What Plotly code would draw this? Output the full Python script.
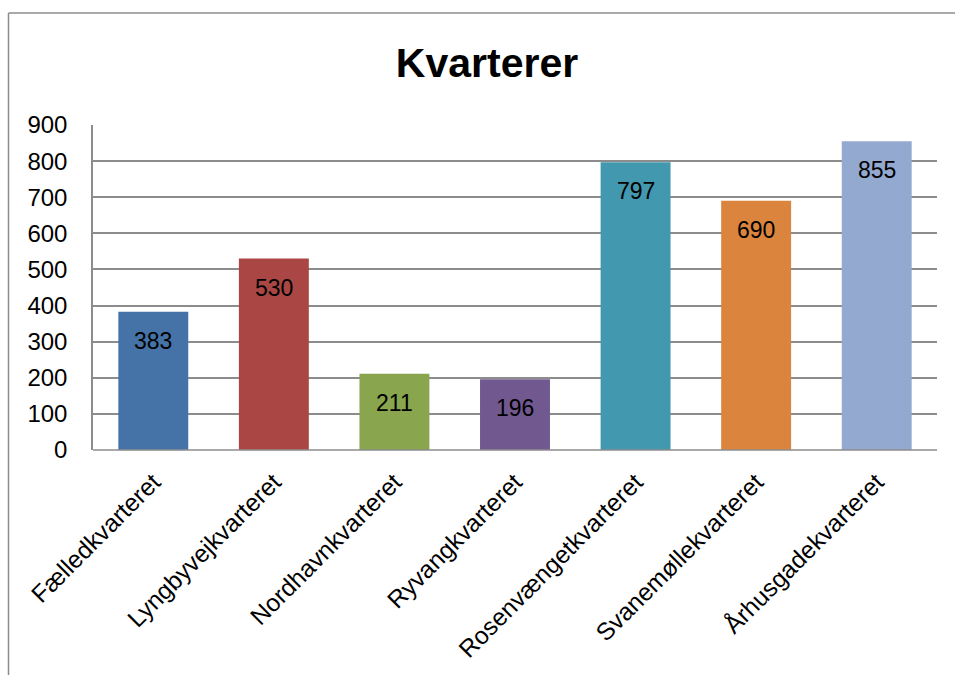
import plotly.graph_objects as go

categories = ["Fælledkvarteret", "Lyngbyvejkvarteret", "Nordhavnkvarteret", "Ryvangkvarteret",
              "Rosenvængetkvarteret", "Svanemøllekvarteret", "Århusgadekvarteret"]
values = [383, 530, 211, 196, 797, 690, 855]
colors = ["#4573A7", "#AA4643", "#89A54E", "#71588F", "#4198AF", "#DB843D", "#93A9CF"]
y_ticks = [0, 100, 200, 300, 400, 500, 600, 700, 800, 900]

FONT = "Liberation Sans"

fig = go.Figure(go.Bar(
    x=categories, y=values, marker=dict(color=colors, line=dict(width=0)),
    hoverinfo="x+y",
))

for c, v in zip(categories, values):
    fig.add_annotation(x=c, y=v, text=str(v), showarrow=False, yshift=-29,
                       yanchor="middle", xanchor="center",
                       font=dict(family=FONT, size=23, color="black"))

L, R, T, B = 93, 18, 125, 225
W, H = 955, 675
pw, ph = W - L - R, H - T - B

def px_to_paper_x(px):
    return (px - L) / pw

def px_to_paper_y(py):
    return (H - B - py) / ph

fig.update_layout(
    width=W, height=H,
    margin=dict(l=L, r=R, t=T, b=B),
    paper_bgcolor="white", plot_bgcolor="white",
    bargap=0.42,
    showlegend=False,
    title=dict(text="<b>Kvarterer</b>", x=487 / W, xanchor="center",
               y=1 - 63 / H, yanchor="middle",
               font=dict(family=FONT, size=41, color="black")),
    xaxis=dict(tickangle=-45, tickfont=dict(family=FONT, size=24.5, color="black"),
               showline=False, ticks="", showgrid=False, ticklabelstandoff=12),
    yaxis=dict(range=[0, 900], tickvals=y_ticks, tickfont=dict(family=FONT, size=24, color="black"),
               showgrid=True, gridcolor="#8c8c8c", gridwidth=1.5, zeroline=False,
               showline=True, linecolor="#8c8c8c", linewidth=1.5, ticks="", ticklen=0,
               ticklabelstandoff=19),
    shapes=[
        dict(type="line", xref="paper", yref="paper", x0=px_to_paper_x(8.5), x1=px_to_paper_x(960),
             y0=px_to_paper_y(13), y1=px_to_paper_y(13), line=dict(color="#8c8c8c", width=1.5), layer="above"),
        dict(type="line", xref="paper", yref="paper", x0=px_to_paper_x(8.5), x1=px_to_paper_x(8.5),
             y0=px_to_paper_y(13), y1=px_to_paper_y(680), line=dict(color="#8c8c8c", width=1.5), layer="above"),
        dict(type="line", xref="paper", yref="paper", x0=0, x1=1,
             y0=0, y1=0, line=dict(color="#8c8c8c", width=1.5), layer="above"),
    ],
)

fig.write_html("out.html", config={"displayModeBar": False},
               post_script="document.body.style.margin='0';")
